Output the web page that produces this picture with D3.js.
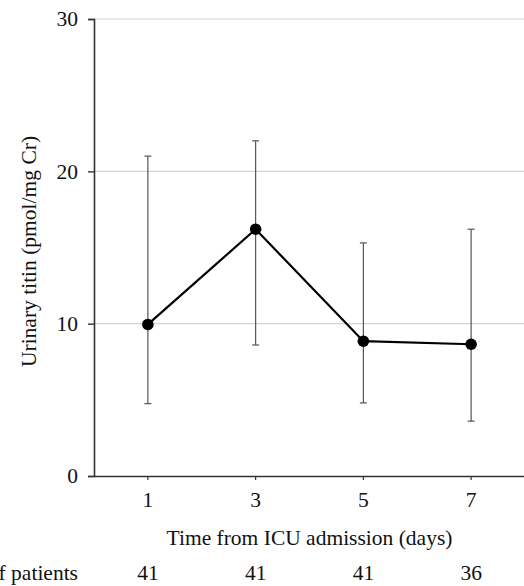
<!DOCTYPE html>
<html>
<head>
<meta charset="utf-8">
<script src="https://cdn.jsdelivr.net/npm/d3@7"></script>
<style>
  body { margin: 0; background: #fff; }
  svg text { font-family: "Liberation Serif", "Times New Roman", serif; fill: #111; }
</style>
</head>
<body>
<div id="chart"></div>
<script>
// days after ICU admission
var days = ["1", "3", "5", "7"];
// median urinary titin (pmol/mg Cr)
var medians = [9.95, 16.2, 8.85, 8.65];
// error bar bounds
var lower = [4.75, 8.6, 4.8, 3.6];
var upper = [21.0, 22.0, 15.3, 16.2];
// number of patients per day
var patients = [41, 41, 41, 36];
var yTicks = [0, 10, 20, 30];

var W = 524, H = 586;
var margin = {top: 19, right: -1, bottom: 110, left: 94};
var width = W - margin.left - margin.right;
var height = H - margin.top - margin.bottom;
var fs = "21.5px";

var svg = d3.select("#chart")
  .append("svg")
  .attr("width", W)
  .attr("height", H);

var g = svg.append("g")
  .attr("transform", "translate(" + margin.left + "," + margin.top + ")");

var x = d3.scaleBand().domain(days).range([0, width]);
var y = d3.scaleLinear().domain([0, 30]).range([height, 0]);

// gridlines
g.append("g")
  .selectAll("line")
  .data(yTicks.filter(d => d > 0))
  .enter()
  .append("line")
  .attr("x1", 0)
  .attr("x2", width)
  .attr("y1", d => y(d))
  .attr("y2", d => y(d))
  .attr("stroke", "#d4d4d4")
  .attr("stroke-width", 1.2);

// y axis
var yAxis = g.append("g")
  .call(d3.axisLeft(y).tickValues(yTicks).tickSize(6).tickPadding(10));
yAxis.select(".domain").attr("stroke", "#333").attr("stroke-width", 1.6);
yAxis.selectAll(".tick line").attr("stroke", "#333").attr("stroke-width", 1.4);
yAxis.selectAll("text").style("font-size", fs);

// x axis
var xAxis = g.append("g")
  .attr("transform", "translate(0," + height + ")")
  .call(d3.axisBottom(x).tickSize(4).tickSizeOuter(0).tickPadding(12));
xAxis.select(".domain").attr("stroke", "#333").attr("stroke-width", 1.6);
xAxis.selectAll(".tick line").attr("stroke", "#333").attr("stroke-width", 1.2);
xAxis.selectAll("text").style("font-size", fs);

var cx = d => x(d) + x.bandwidth() / 2;

// error bars
var err = g.append("g").selectAll("g")
  .data(days)
  .enter()
  .append("g")
  .attr("stroke", "#555")
  .attr("stroke-width", 1.2);

err.append("line")
  .attr("x1", d => cx(d)).attr("x2", d => cx(d))
  .attr("y1", (d, i) => y(lower[i])).attr("y2", (d, i) => y(upper[i]));
err.append("line")
  .attr("x1", d => cx(d) - 3.5).attr("x2", d => cx(d) + 3.5)
  .attr("y1", (d, i) => y(lower[i])).attr("y2", (d, i) => y(lower[i]));
err.append("line")
  .attr("x1", d => cx(d) - 3.5).attr("x2", d => cx(d) + 3.5)
  .attr("y1", (d, i) => y(upper[i])).attr("y2", (d, i) => y(upper[i]));

// median line
var line = d3.line()
  .x((d, i) => cx(days[i]))
  .y(d => y(d));

g.append("path")
  .datum(medians)
  .attr("d", line)
  .attr("fill", "none")
  .attr("stroke", "#000")
  .attr("stroke-width", 2.2);

g.append("g").selectAll("circle")
  .data(medians)
  .enter()
  .append("circle")
  .attr("cx", (d, i) => cx(days[i]))
  .attr("cy", d => y(d))
  .attr("r", 5.8)
  .attr("fill", "#000");

// axis titles
g.append("text")
  .attr("x", width / 2)
  .attr("y", height + 69)
  .attr("text-anchor", "middle")
  .style("font-size", fs)
  .text("Time from ICU admission (days)");

svg.append("text")
  .attr("transform", "translate(36," + (margin.top + height / 2 + 4) + ") rotate(-90)")
  .attr("text-anchor", "middle")
  .style("font-size", fs)
  .text("Urinary titin (pmol/mg Cr)");

// number of patients row
var row = g.append("g").attr("transform", "translate(0," + (height + 104) + ")");
row.append("text")
  .attr("x", -16)
  .attr("text-anchor", "end")
  .style("font-size", fs)
  .text("Number of patients");
row.selectAll(".n")
  .data(patients)
  .enter()
  .append("text")
  .attr("class", "n")
  .attr("x", (d, i) => cx(days[i]))
  .attr("text-anchor", "middle")
  .style("font-size", fs)
  .text(d => d);
</script>
</body>
</html>
